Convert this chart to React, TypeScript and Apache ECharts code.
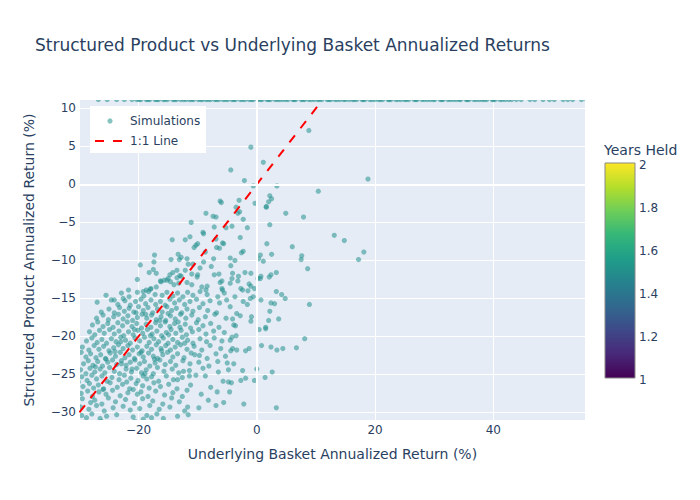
import React, { useEffect, useRef } from 'react';
import * as echarts from 'echarts';

const FONT = '"DejaVu Sans", verdana, arial, sans-serif';
const INK = '#2a3f5f';

const xTicks = [-20, 0, 20, 40];
const yTicks = [-30, -25, -20, -15, -10, -5, 0, 5, 10];
const colorbarTicks = [1, 1.2, 1.4, 1.6, 1.8, 2];
const yearsHeld = 1.5;
const capReturn = 11.15;
const identityLine = [-30, 10.4];

// dense cluster (y <= -14)
const denseSims: number[][] = [
  [-29.2,-31.3],[-27.5,-31.4],[-26.3,-31.2],[-24.9,-31.5],[-22.8,-31.3],[-20.6,-31.2],[-19.1,-31.4],[-17.4,-31.3],[-15.9,-31.5],
  [-29.6,-30.4],[-28.8,-30.7],[-27.9,-30.2],[-26.5,-30.8],[-25.4,-30.5],[-23.7,-30.3],[-20.9,-30.6],[-19.2,-30.9],[-18.6,-30.4],[-17.8,-30.7],[-16.9,-30.2],[-15.8,-30.8],[-13.4,-30.5],[-11.6,-30.3],
  [-29.8,-29.3],[-28.4,-29.6],[-27.1,-29.1],[-25.8,-29.8],[-24.3,-29.4],[-22.6,-29.2],[-21.4,-29.7],[-19.8,-29.5],[-18.1,-29.1],[-16.5,-29.6],[-14.7,-29.3],[-12.2,-29.8],[-9.8,-29.4],[-6.9,-29.1],[-11.7,-29.3],
  [-29.5,-28.2],[-28.1,-28.7],[-27.4,-28.4],[-26.2,-28.9],[-25.1,-28.1],[-23.9,-28.6],[-22.2,-28.3],[-20.7,-28.8],[-19.3,-28.2],[-17.6,-28.5],[-15.9,-28.9],[-14.4,-28.1],[-13.1,-28.6],[-8.2,-28.4],[-5.6,-28.7],[-12.6,-27.9],
  [-29.7,-27.5],[-28.6,-27.2],[-27.8,-27.9],[-26.7,-27.3],[-25.5,-27.6],[-24.4,-27.1],[-23.1,-27.8],[-21.8,-27.4],[-20.9,-27.0],[-20.2,-27.6],[-19.6,-27.3],[-18.4,-27.9],[-17.1,-27.2],[-15.6,-27.7],[-14.2,-27.4],[-11.8,-27.1],[-9.4,-27.6],[-6.7,-27.3],[-4.6,-27.3],
  [-29.4,-26.6],[-28.3,-26.2],[-27.6,-26.8],[-26.8,-26.4],[-25.9,-26.9],[-24.8,-26.1],[-23.6,-26.7],[-22.7,-26.3],[-21.5,-26.9],[-20.4,-26.2],[-19.3,-26.5],[-18.2,-26.8],[-17.4,-26.1],[-16.3,-26.6],[-14.9,-26.3],[-13.5,-26.9],[-11.2,-26.4],[-7.8,-26.7],[-4.8,-26.0],
  [-29.6,-25.3],[-28.7,-25.8],[-27.9,-25.1],[-27.1,-25.6],[-26.2,-25.2],[-25.3,-25.9],[-24.5,-25.4],[-23.3,-25.7],[-22.4,-25.1],[-21.3,-25.5],[-20.1,-25.8],[-19.2,-25.2],[-18.6,-25.6],[-17.8,-25.3],[-16.6,-25.9],[-15.3,-25.2],[-14.1,-25.7],[-13.4,-25.7],[-12.6,-25.4],[-11.4,-25.2],[-10.3,-25.1],[-8.7,-25.2],[-5.7,-25.9],
  [-29.8,-24.4],[-28.9,-24.9],[-28.2,-24.2],[-27.4,-24.7],[-26.5,-24.3],[-25.7,-24.8],[-24.9,-24.1],[-24.1,-24.6],[-23.2,-24.9],[-22.1,-24.3],[-21.2,-24.7],[-20.3,-24.2],[-19.5,-24.8],[-18.7,-24.4],[-17.5,-24.9],[-16.8,-24.1],[-15.7,-24.6],[-14.3,-24.3],[-13.2,-24.8],[-12.4,-24.6],[-11.4,-24.5],[-9.1,-24.2],[-6.5,-24.7],[-4.8,-24.4],
  [-29.3,-23.6],[-28.5,-23.2],[-27.7,-23.8],[-26.9,-23.3],[-26.1,-23.9],[-25.2,-23.4],[-24.4,-23.1],[-23.7,-23.7],[-22.9,-23.2],[-22.1,-23.8],[-21.4,-23.4],[-20.6,-23.1],[-19.8,-23.6],[-19.0,-23.3],[-18.1,-23.9],[-17.2,-23.5],[-16.4,-23.1],[-15.5,-23.7],[-14.6,-23.3],[-13.7,-23.8],[-12.5,-23.2],[-11.3,-23.6],[-9.8,-23.4],[-8.1,-23.9],[-6.6,-23.3],[-5.0,-23.5],
  [-29.7,-22.1],[-28.9,-22.7],[-28.1,-22.3],[-27.2,-22.8],[-26.4,-22.4],[-25.6,-22.9],[-24.8,-22.2],[-23.9,-22.6],[-23.1,-22.1],[-22.3,-22.8],[-21.6,-22.4],[-20.7,-22.9],[-19.9,-22.3],[-19.2,-22.7],[-18.3,-22.2],[-17.5,-22.6],[-16.8,-22.9],[-15.9,-22.4],[-15.1,-22.1],[-14.2,-22.7],[-13.4,-22.3],[-12.3,-22.8],[-11.1,-22.2],[-9.7,-22.5],[-8.4,-22.9],[-6.9,-22.3],[-5.3,-22.6],
  [-29.5,-21.4],[-28.4,-21.8],[-27.5,-21.2],[-26.7,-21.7],[-25.9,-21.3],[-25.0,-21.9],[-24.2,-21.5],[-23.4,-21.1],[-22.6,-21.6],[-21.8,-21.2],[-21.0,-21.8],[-20.2,-21.4],[-19.4,-21.9],[-18.6,-21.3],[-17.8,-21.7],[-17.0,-21.1],[-16.2,-21.6],[-15.4,-21.2],[-14.6,-21.8],[-13.8,-21.4],[-12.9,-21.1],[-11.8,-21.7],[-10.6,-21.3],[-9.3,-21.8],[-7.9,-21.2],[-6.1,-21.6],
  [-28.8,-20.6],[-27.9,-20.2],[-27.0,-20.8],[-26.2,-20.4],[-25.4,-20.9],[-24.6,-20.3],[-23.8,-20.7],[-23.0,-20.1],[-22.2,-20.5],[-21.4,-20.9],[-20.6,-20.2],[-19.8,-20.6],[-19.0,-20.1],[-18.2,-20.8],[-17.4,-20.3],[-16.6,-20.7],[-15.8,-20.2],[-15.0,-20.9],[-14.2,-20.4],[-13.4,-20.8],[-12.6,-20.1],[-11.7,-20.5],[-10.8,-20.9],[-9.6,-20.3],[-8.5,-20.7],[-7.2,-20.2],[-5.9,-20.6],
  [-28.3,-19.4],[-27.4,-19.8],[-26.6,-19.2],[-25.8,-19.6],[-24.9,-19.1],[-24.1,-19.7],[-23.3,-19.3],[-22.5,-19.9],[-21.7,-19.4],[-20.9,-19.8],[-20.1,-19.2],[-19.3,-19.6],[-18.5,-19.1],[-17.7,-19.7],[-16.9,-19.3],[-16.1,-19.9],[-15.3,-19.5],[-14.5,-19.1],[-13.7,-19.6],[-12.8,-19.2],[-11.9,-19.8],[-10.9,-19.4],[-9.8,-19.1],[-8.6,-19.7],[-7.3,-19.3],[-5.5,-19.5],
  [-27.8,-18.5],[-26.9,-18.1],[-26.0,-18.7],[-25.2,-18.3],[-24.3,-18.8],[-23.5,-18.2],[-22.7,-18.6],[-21.9,-18.1],[-21.1,-18.7],[-20.3,-18.3],[-19.5,-18.9],[-18.7,-18.4],[-17.9,-18.8],[-17.1,-18.2],[-16.3,-18.6],[-15.5,-18.1],[-14.7,-18.7],[-13.9,-18.3],[-13.0,-18.8],[-12.1,-18.4],[-11.2,-18.9],[-10.2,-18.2],[-9.1,-18.6],[-7.8,-18.3],[-6.4,-18.8],
  [-27.1,-17.6],[-26.0,-17.2],[-25.1,-17.8],[-24.2,-17.4],[-23.4,-17.1],[-22.6,-17.7],[-21.8,-17.3],[-21.0,-17.9],[-20.2,-17.5],[-19.4,-17.1],[-18.6,-17.6],[-17.8,-17.2],[-17.0,-17.8],[-16.2,-17.4],[-15.4,-17.9],[-14.6,-17.3],[-13.8,-17.7],[-12.9,-17.1],[-12.0,-17.6],[-11.0,-17.2],[-9.9,-17.8],[-8.7,-17.4],[-7.1,-17.1],[-5.2,-17.6],
  [-26.3,-16.8],[-25.0,-16.4],[-24.1,-16.9],[-23.2,-16.2],[-22.4,-16.7],[-21.6,-16.3],[-20.8,-16.8],[-20.0,-16.1],[-19.2,-16.6],[-18.4,-16.2],[-17.6,-16.9],[-16.8,-16.4],[-16.0,-16.8],[-15.2,-16.1],[-14.4,-16.6],[-13.6,-16.3],[-12.7,-16.9],[-11.8,-16.4],[-10.8,-16.7],[-9.7,-16.2],[-8.3,-16.6],[-6.8,-16.9],
  [-27.0,-15.5],[-24.6,-15.2],[-23.5,-15.8],[-22.3,-15.3],[-21.4,-15.9],[-20.5,-15.4],[-19.6,-15.1],[-18.8,-15.7],[-17.9,-15.2],[-17.1,-15.8],[-16.3,-15.4],[-15.5,-15.9],[-14.7,-15.1],[-13.9,-15.6],[-13.1,-15.2],[-12.2,-15.8],[-11.3,-15.4],[-10.2,-15.1],[-9.1,-15.7],[-7.9,-15.3],[-6.3,-15.6],[-5.1,-15.2],
  [-25.5,-14.6],[-22.9,-14.3],[-21.6,-14.8],[-20.2,-14.2],[-19.1,-14.7],[-18.3,-14.1],[-17.2,-14.5],[-16.0,-14.6],[-15.2,-14.2],[-14.2,-14.7],[-13.4,-14.3],[-12.5,-14.8],[-11.7,-14.2],[-10.8,-14.6],[-9.6,-14.1],[-8.4,-14.5],[-6.6,-14.8],[-5.5,-14.3],
  [-30.3,-21.5],[-30.4,-23.2],[-30.2,-26.0],[-30.5,-27.8],[-30.3,-29.0],[-28.0,-31.6],[-23.5,-31.7],[-18.2,-31.6],
  [-24.0,-22.0],[-22.9,-23.6],[-21.1,-24.3],[-19.6,-22.1],[-18.9,-24.9],[-17.3,-23.0],[-16.1,-21.9],[-14.9,-19.8],[-13.3,-18.1],[-20.7,-19.1],[-23.0,-20.7],[-25.5,-23.0],
  [-27.3,-24.0],[-26.0,-27.0],[-22.0,-26.0],[-18.0,-19.9],[-16.4,-17.9],[-15.0,-17.0],[-12.2,-20.9],[-10.5,-22.4],[-20.4,-16.9],[-18.8,-17.1],
];

// upper part of the cloud (y > -14, x < -4.5)
const upperSims: number[][] = [
  [-8.6,-3.8],[-6.9,-4.3],[-11.1,-5.0],[-7.2,-5.6],[-5.2,-5.7],[-9.1,-6.3],[-9.0,-6.5],[-11.3,-6.9],[-12.1,-7.3],[-6.9,-7.2],
  [-5.8,-7.7],[-5.6,-7.8],[-10.3,-8.0],[-10.0,-7.8],[-10.6,-8.3],[-6.8,-8.3],[-6.3,-8.4],[-8.7,-8.9],[-13.3,-9.2],[-11.6,-10.5],
  [-10.8,-10.5],[-11.8,-9.8],[-7.3,-9.8],[-9.0,-10.2],[-13.5,-11.3],[-14.7,-11.9],[-13.0,-12.0],[-13.2,-13.0],[-11.0,-11.8],[-9.3,-13.5],
  [-8.6,-13.9],[-7.2,-11.9],[-6.2,-12.9],[-5.8,-13.9],[-6.0,-2.4],[-6.2,-2.2],[-7.4,-4.2],[-14.5,-9.9],[-12.1,-11.3],[-12.8,-12.1],
  [-11.8,-12.9],[-11.0,-13.2],[-10.1,-12.2],[-10.0,-11.9],[-8.4,-13.4],[-6.4,-11.8],[-5.9,-12.7],[-5.9,-13.7],[-14.2,-11.6],[-15.2,-12.6],
  [-14.6,-12.8],[-16.2,-12.8],[-17.0,-11.7],[-17.3,-9.3],[-19.7,-10.6],[-14.3,-7.3],[-13.1,-9.9],[-18.7,-13.9],[-17.9,-13.7],[-21.7,-13.9],
  [-17.5,-11.2],[-17.4,-10.2],[-20.2,-12.5],[-18.2,-11.6],[-15.7,-12.6],[-15.0,-12.4],[-16.3,-12.7],[-18.0,-13.8],[-19.2,-14.1],[-17.0,-13.5],
  [-14.0,-13.2],[-13.5,-12.3],[-24.1,-15.2],[-22.6,-15.0],[-12.8,-9.6],[-9.6,-11.0],[-7.7,-10.8],
];

// sparse right-hand points (x >= -4.5)
const sparseSims: number[][] = [
  [-1.0,4.9],[8.8,7.1],[1.1,2.9],[-2.1,0.5],[-4.4,1.9],[-0.6,-0.2],[3.4,-0.2],[18.8,0.7],[10.4,-0.9],[-3.0,-2.1],
  [-3.5,-3.0],[-3.2,-3.8],[-0.3,-2.5],[2.2,-1.5],[2.5,-1.9],[2.0,-2.3],[1.6,-2.9],[4.9,-3.8],[7.9,-4.3],[-4.2,-5.5],
  [-1.6,-5.7],[2.2,-5.3],[-2.8,-7.0],[13.1,-6.7],[14.8,-7.4],[6.0,-8.2],[1.7,-7.8],[-2.3,-8.8],[-2.6,-9.0],[2.5,-9.2],
  [0.6,-9.3],[0.3,-9.8],[1.1,-10.1],[7.6,-9.4],[7.5,-9.9],[8.6,-11.1],[17.2,-9.9],[18.1,-8.9],[-4.5,-9.7],[-4.4,-10.7],
  [-3.7,-10.0],[-4.1,-11.7],[-2.0,-11.6],[-1.0,-11.7],[-3.1,-12.1],[-4.5,-13.0],[-3.2,-12.7],[-1.3,-13.1],[-1.0,-13.4],[-0.4,-13.7],
  [-2.7,-13.7],[-2.4,-13.9],[-1.5,-14.0],[0.2,-12.4],[0.7,-12.1],[2.1,-12.2],[2.4,-11.9],[3.3,-11.6],[3.3,-14.1],[4.2,-14.5],
  [4.8,-15.0],[8.9,-15.8],[-3.7,-14.8],[-2.3,-15.4],[-1.6,-15.8],[-0.6,-14.8],[-1.1,-15.0],[0.7,-15.2],[2.4,-15.6],[3.0,-15.7],
  [-4.5,-16.1],[-3.4,-17.0],[-4.1,-17.7],[-2.8,-17.3],[-0.9,-17.4],[-1.0,-18.0],[2.2,-16.7],[3.7,-17.7],[2.0,-17.9],[1.5,-18.8],
  [1.5,-19.0],[0.4,-19.1],[-3.9,-18.5],[-3.6,-18.6],[-3.5,-19.9],[-4.2,-20.1],[-4.5,-20.5],[8.1,-20.3],[-4.1,-21.6],[-3.4,-21.8],
  [-1.9,-21.9],[-1.3,-21.6],[0.8,-21.2],[2.4,-21.4],[3.4,-21.8],[4.4,-21.6],[6.7,-21.5],[-2.4,-24.5],[0.0,-24.3],[2.6,-24.7],
  [-2.7,-25.8],[-0.4,-25.8],[1.4,-25.4],[-2.2,-28.9],[3.3,-29.4],[-2.9,-3.6],[-2.3,-4.6],[1.6,-3.0],[-4.4,-21.9],[-3.9,-23.6],
  [-4.3,-26.1],[-1.9,-25.5],[-4.2,-12.4],[0.6,-12.4],
];

// simulations whose structured return hit the cap (drawn at the top edge)
const cappedX = [
  -26.8, -25.3, -23.7, -22.4, -21.1, -20.3, -19.6, -18.7, -18.1, -17.2, -16.6, -15.8, -15.1, -14.2, -13.6, -12.9,
  -12.0, -11.4, -10.7, -9.9, -9.2, -8.6, -7.8, -7.1, -6.4, -5.7, -4.9, -4.2, -3.6, -2.8, -2.0, -1.3, -0.6, 0.2,
  0.9, 1.7, 2.3, 3.1, 3.9, 4.4, 5.3, 6.1, 6.6, 7.5, 8.1, 8.8, 9.7, 10.3, 11.0, 11.9, 12.5, 13.2, 14.1, 14.7,
  15.6, 16.2, 16.9, 17.8, 18.3, 19.1, 20.0, 20.6, 21.3, 22.2, 22.7, 23.5, 24.4, 25.0, 25.7, 26.6, 27.1, 27.9,
  28.8, 29.3, 30.1, 31.0, 31.5, 32.3, 33.2, 33.7, 34.5, 35.4, 35.9, 36.7, 37.6, 38.1, 38.9, 39.8, 40.3, 41.1,
  42.0, 42.6, 43.9, 44.7, 46.2, 47.0, 48.4, 49.5, 50.3, 51.8, 52.6, 53.4, 54.9, 55.8,
  -19.9, -18.4, -16.9, -15.5, -13.9, -12.4, -11.0, -9.5, -8.2, -6.8, -5.3, -3.9, -2.4, -0.9, 0.6, 2.0, 3.5,
  4.9, 6.3, 7.8, 9.2, 10.6, 12.2, 13.6, 15.0, 16.5, 18.0, 19.5, 20.9, 22.4, 23.9, 25.3, 26.9, 28.3, 29.8,
  31.3, 32.7, 34.2, 35.6, 37.1, 38.5, 40.0, 41.5, 43.1,
];

const viridis = ['#440154', '#482878', '#3e4989', '#31688e', '#26828e', '#1f9e89', '#35b779', '#6ece58', '#b5de2b', '#fde725'];

const fmt = (v: number) => (v < 0 ? '\u2212' + Math.abs(v) : String(v));

export default function App() {
  const ref = useRef<HTMLDivElement>(null);
  useEffect(() => {
    const chart = echarts.init(ref.current!, null, { renderer: 'svg' });
    const points = [
      ...denseSims.map(([x, y]) => [x, y, yearsHeld]),
      ...upperSims.map(([x, y]) => [x, y, yearsHeld]),
      ...sparseSims.map(([x, y]) => [x, y, yearsHeld]),
      ...cappedX.map((x) => [x, capReturn, yearsHeld]),
    ];
    const cbTop = 163, cbH = 215, cbX = 605, cbW = 30;
    const cbStops = viridis.map((c, i) => ({ offset: 1 - i / (viridis.length - 1), color: c })).reverse();
    const markerColor = '#21918c';
    const graphic: any[] = [
      { type: 'rect', shape: { x: 90, y: 106, width: 116, height: 47 }, style: { fill: '#ffffff' }, z: 100 },
      { type: 'circle', shape: { cx: 110, cy: 121, r: 2.6 }, style: { fill: markerColor, opacity: 0.55 }, z: 101 },
      { type: 'text', x: 130, y: 121, style: { text: 'Simulations', fill: INK, font: `12px ${FONT}`, verticalAlign: 'middle' }, z: 101 },
      { type: 'line', shape: { x1: 95, y1: 141, x2: 124, y2: 141 }, style: { stroke: 'red', lineWidth: 2, lineDash: [9, 9] }, z: 101 },
      { type: 'text', x: 130, y: 141, style: { text: '1:1 Line', fill: INK, font: `12px ${FONT}`, verticalAlign: 'middle' }, z: 101 },
      { type: 'text', x: 604, y: 150, style: { text: 'Years Held', fill: INK, font: `14px ${FONT}`, verticalAlign: 'middle' }, z: 101 },
      {
        type: 'rect', shape: { x: cbX, y: cbTop, width: cbW, height: cbH },
        style: { fill: { type: 'linear', x: 0, y: 0, x2: 0, y2: 1, colorStops: cbStops }, stroke: '#888', lineWidth: 1 }, z: 101,
      },
      ...colorbarTicks.map((t) => ({
        type: 'text', x: cbX + cbW + 4, y: cbTop + cbH - (t - 1) * cbH + 1.5,
        style: { text: String(t), fill: INK, font: `12px ${FONT}`, verticalAlign: 'middle' }, z: 101,
      })),
    ];
    chart.setOption({
      animation: false,
      backgroundColor: '#ffffff',
      title: {
        text: 'Structured Product vs Underlying Basket Annualized Returns',
        left: 35, top: 36, padding: 0,
        textStyle: { fontSize: 17, color: INK, fontWeight: 'normal', fontFamily: FONT },
      },
      grid: { left: 80, right: 115, top: 100, bottom: 80, show: true, backgroundColor: '#e5ecf6', borderWidth: 0 },
      xAxis: {
        type: 'value', min: -29.9, max: 55.5,
        axisLine: { show: false },
        axisTick: { show: false, customValues: xTicks },
        axisLabel: { customValues: xTicks, formatter: fmt, color: INK, fontSize: 12, fontFamily: FONT, margin: 4 },
        splitLine: { show: true, lineStyle: { color: '#ffffff', width: 1 } },
        name: 'Underlying Basket Annualized Return (%)', nameLocation: 'middle', nameGap: 27,
        nameTextStyle: { color: INK, fontSize: 14, fontFamily: FONT },
      },
      yAxis: {
        type: 'value', min: -31, max: 11.1,
        axisLine: { show: false },
        axisTick: { show: false, customValues: yTicks },
        axisLabel: { customValues: yTicks, formatter: fmt, color: INK, fontSize: 12, fontFamily: FONT, margin: 4 },
        splitLine: { show: true, lineStyle: { color: '#ffffff', width: 1 } },
        name: 'Structured Product Annualized Return (%)', nameLocation: 'middle', nameGap: 44,
        nameTextStyle: { color: INK, fontSize: 14, fontFamily: FONT },
      },
      visualMap: {
        show: false, type: 'continuous', min: 1, max: 2, dimension: 2, seriesIndex: 1,
        inRange: { color: viridis },
      },
      series: [
        {
          type: 'line', data: [], z: 1, silent: true,
          markLine: {
            silent: true, symbol: 'none', label: { show: false },
            lineStyle: { color: '#ffffff', width: 2, type: 'solid' },
            data: [{ xAxis: 0 }, { yAxis: 0 }],
          },
        },
        {
          name: 'Simulations', type: 'custom', clip: true, z: 2,
          data: points,
          encode: { x: 0, y: 1 },
          renderItem: (_params: any, api: any) => {
            const p = api.coord([api.value(0), api.value(1)]);
            return {
              type: 'circle',
              shape: { cx: p[0], cy: p[1], r: 2.6 },
              style: { fill: api.visual('color'), opacity: 0.55 },
            };
          },
        },
        {
          name: '1:1 Line', type: 'line', z: 3, clip: true, symbol: 'none', silent: true,
          data: identityLine.map((v) => [v, v]),
          lineStyle: { color: 'red', width: 2, type: [9, 9] },
        },
      ],
      graphic,
    });
    return () => chart.dispose();
  }, []);
  return <div ref={ref} style={{ position: 'fixed', left: 0, top: 0, width: 700, height: 500 }} />;
}
